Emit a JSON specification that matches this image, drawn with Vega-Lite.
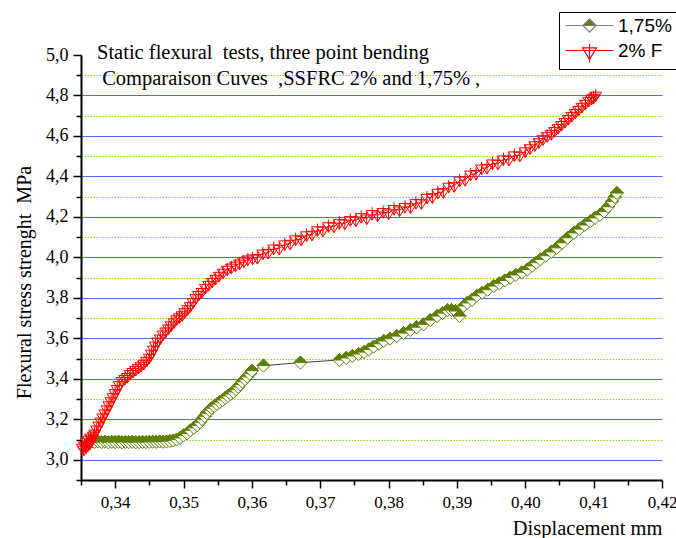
{
"$schema": "https://vega.github.io/schema/vega-lite/v6.json",
"width": 581, "height": 425,
"autosize": {"type": "none"},
"padding": {"left": 81, "top": 55, "right": 14, "bottom": 58},
"background": "white",
"config": {"view": {"stroke": null}, "font": "Liberation Serif"},
"title": {"text": ["Static flexural\u00a0 tests, three point bending", "\u200b\u00a0Comparaison Cuves\u00a0 ,SSFRC 2% and 1,75% ,"], "anchor": "start", "frame": "group", "orient": "top", "font": "Liberation Serif", "fontSize": 20.5, "fontWeight": "normal", "color": "black", "lineHeight": 26, "baseline": "top", "dx": 16, "dy": 78, "offset": 0},
"data": {"values": [
{"series":"1,75%","disp":0.3362,"stress":3.085},{"series":"1,75%","disp":0.3366,"stress":3.09},{"series":"1,75%","disp":0.3370,"stress":3.088},{"series":"1,75%","disp":0.3375,"stress":3.09},{"series":"1,75%","disp":0.3380,"stress":3.087},{"series":"1,75%","disp":0.3385,"stress":3.089},{"series":"1,75%","disp":0.3390,"stress":3.086},{"series":"1,75%","disp":0.3395,"stress":3.088},{"series":"1,75%","disp":0.3400,"stress":3.087},{"series":"1,75%","disp":0.3405,"stress":3.089},{"series":"1,75%","disp":0.3410,"stress":3.086},{"series":"1,75%","disp":0.3415,"stress":3.088},{"series":"1,75%","disp":0.3420,"stress":3.087},{"series":"1,75%","disp":0.3425,"stress":3.088},{"series":"1,75%","disp":0.3430,"stress":3.086},{"series":"1,75%","disp":0.3435,"stress":3.087},{"series":"1,75%","disp":0.3440,"stress":3.088},{"series":"1,75%","disp":0.3445,"stress":3.087},{"series":"1,75%","disp":0.3450,"stress":3.088},{"series":"1,75%","disp":0.3455,"stress":3.089},{"series":"1,75%","disp":0.3460,"stress":3.088},{"series":"1,75%","disp":0.3465,"stress":3.09},{"series":"1,75%","disp":0.3470,"stress":3.089},{"series":"1,75%","disp":0.3475,"stress":3.09},{"series":"1,75%","disp":0.3480,"stress":3.092},{"series":"1,75%","disp":0.3485,"stress":3.095},{"series":"1,75%","disp":0.3490,"stress":3.10},{"series":"1,75%","disp":0.3495,"stress":3.108},{"series":"1,75%","disp":0.3500,"stress":3.12},{"series":"1,75%","disp":0.3505,"stress":3.13},{"series":"1,75%","disp":0.3510,"stress":3.145},{"series":"1,75%","disp":0.3515,"stress":3.158},{"series":"1,75%","disp":0.3520,"stress":3.17},{"series":"1,75%","disp":0.3524,"stress":3.185},{"series":"1,75%","disp":0.3527,"stress":3.20},{"series":"1,75%","disp":0.3531,"stress":3.215},{"series":"1,75%","disp":0.3534,"stress":3.23},{"series":"1,75%","disp":0.3538,"stress":3.245},{"series":"1,75%","disp":0.3541,"stress":3.255},{"series":"1,75%","disp":0.3545,"stress":3.265},{"series":"1,75%","disp":0.3549,"stress":3.275},{"series":"1,75%","disp":0.3553,"stress":3.285},{"series":"1,75%","disp":0.3557,"stress":3.295},{"series":"1,75%","disp":0.3561,"stress":3.305},{"series":"1,75%","disp":0.3565,"stress":3.315},{"series":"1,75%","disp":0.3569,"stress":3.325},{"series":"1,75%","disp":0.3573,"stress":3.335},{"series":"1,75%","disp":0.3577,"stress":3.348},{"series":"1,75%","disp":0.3580,"stress":3.36},{"series":"1,75%","disp":0.3583,"stress":3.372},{"series":"1,75%","disp":0.3586,"stress":3.385},{"series":"1,75%","disp":0.3590,"stress":3.398},{"series":"1,75%","disp":0.3593,"stress":3.41},{"series":"1,75%","disp":0.3597,"stress":3.425},{"series":"1,75%","disp":0.3600,"stress":3.44},{"series":"1,75%","disp":0.3617,"stress":3.465},{"series":"1,75%","disp":0.3671,"stress":3.48},{"series":"1,75%","disp":0.3728,"stress":3.493},{"series":"1,75%","disp":0.3738,"stress":3.503},{"series":"1,75%","disp":0.3747,"stress":3.513},{"series":"1,75%","disp":0.3756,"stress":3.522},{"series":"1,75%","disp":0.3764,"stress":3.532},{"series":"1,75%","disp":0.3771,"stress":3.545},{"series":"1,75%","disp":0.3778,"stress":3.559},{"series":"1,75%","disp":0.3786,"stress":3.573},{"series":"1,75%","disp":0.3793,"stress":3.587},{"series":"1,75%","disp":0.3802,"stress":3.598},{"series":"1,75%","disp":0.3812,"stress":3.611},{"series":"1,75%","disp":0.3822,"stress":3.626},{"series":"1,75%","disp":0.3832,"stress":3.641},{"series":"1,75%","disp":0.3841,"stress":3.655},{"series":"1,75%","disp":0.3851,"stress":3.669},{"series":"1,75%","disp":0.3861,"stress":3.69},{"series":"1,75%","disp":0.3871,"stress":3.71},{"series":"1,75%","disp":0.3879,"stress":3.725},{"series":"1,75%","disp":0.3886,"stress":3.739},{"series":"1,75%","disp":0.3892,"stress":3.74},{"series":"1,75%","disp":0.3898,"stress":3.735},{"series":"1,75%","disp":0.3904,"stress":3.71},{"series":"1,75%","disp":0.3910,"stress":3.76},{"series":"1,75%","disp":0.3915,"stress":3.775},{"series":"1,75%","disp":0.3922,"stress":3.79},{"series":"1,75%","disp":0.3929,"stress":3.81},{"series":"1,75%","disp":0.3937,"stress":3.825},{"series":"1,75%","disp":0.3945,"stress":3.84},{"series":"1,75%","disp":0.3954,"stress":3.858},{"series":"1,75%","disp":0.3962,"stress":3.872},{"series":"1,75%","disp":0.3970,"stress":3.886},{"series":"1,75%","disp":0.3978,"stress":3.90},{"series":"1,75%","disp":0.3986,"stress":3.913},{"series":"1,75%","disp":0.3995,"stress":3.926},{"series":"1,75%","disp":0.4003,"stress":3.94},{"series":"1,75%","disp":0.4010,"stress":3.958},{"series":"1,75%","disp":0.4016,"stress":3.974},{"series":"1,75%","disp":0.4022,"stress":3.99},{"series":"1,75%","disp":0.4030,"stress":4.008},{"series":"1,75%","disp":0.4038,"stress":4.027},{"series":"1,75%","disp":0.4046,"stress":4.047},{"series":"1,75%","disp":0.4054,"stress":4.072},{"series":"1,75%","disp":0.4062,"stress":4.097},{"series":"1,75%","disp":0.4071,"stress":4.121},{"series":"1,75%","disp":0.4079,"stress":4.14},{"series":"1,75%","disp":0.4087,"stress":4.16},{"series":"1,75%","disp":0.4095,"stress":4.178},{"series":"1,75%","disp":0.4102,"stress":4.195},{"series":"1,75%","disp":0.4109,"stress":4.21},{"series":"1,75%","disp":0.4115,"stress":4.227},{"series":"1,75%","disp":0.4121,"stress":4.25},{"series":"1,75%","disp":0.4127,"stress":4.277},{"series":"1,75%","disp":0.4131,"stress":4.298},{"series":"1,75%","disp":0.4134,"stress":4.318},
{"series":"2% F","disp":0.3352,"stress":3.06},{"series":"2% F","disp":0.3354,"stress":3.05},{"series":"2% F","disp":0.3355,"stress":3.07},{"series":"2% F","disp":0.3357,"stress":3.06},{"series":"2% F","disp":0.3358,"stress":3.09},{"series":"2% F","disp":0.3360,"stress":3.07},{"series":"2% F","disp":0.3361,"stress":3.10},{"series":"2% F","disp":0.3363,"stress":3.08},{"series":"2% F","disp":0.3364,"stress":3.11},{"series":"2% F","disp":0.3366,"stress":3.10},{"series":"2% F","disp":0.3368,"stress":3.12},{"series":"2% F","disp":0.3370,"stress":3.13},{"series":"2% F","disp":0.3373,"stress":3.15},{"series":"2% F","disp":0.3376,"stress":3.17},{"series":"2% F","disp":0.3379,"stress":3.19},{"series":"2% F","disp":0.3382,"stress":3.21},{"series":"2% F","disp":0.3385,"stress":3.23},{"series":"2% F","disp":0.3388,"stress":3.25},{"series":"2% F","disp":0.3391,"stress":3.27},{"series":"2% F","disp":0.3394,"stress":3.29},{"series":"2% F","disp":0.3397,"stress":3.31},{"series":"2% F","disp":0.3400,"stress":3.33},{"series":"2% F","disp":0.3403,"stress":3.35},{"series":"2% F","disp":0.3406,"stress":3.37},{"series":"2% F","disp":0.3410,"stress":3.39},{"series":"2% F","disp":0.3414,"stress":3.40},{"series":"2% F","disp":0.3418,"stress":3.41},{"series":"2% F","disp":0.3422,"stress":3.425},{"series":"2% F","disp":0.3426,"stress":3.435},{"series":"2% F","disp":0.3430,"stress":3.445},{"series":"2% F","disp":0.3434,"stress":3.455},{"series":"2% F","disp":0.3438,"stress":3.465},{"series":"2% F","disp":0.3442,"stress":3.475},{"series":"2% F","disp":0.3446,"stress":3.49},{"series":"2% F","disp":0.3450,"stress":3.505},{"series":"2% F","disp":0.3453,"stress":3.525},{"series":"2% F","disp":0.3456,"stress":3.545},{"series":"2% F","disp":0.3459,"stress":3.565},{"series":"2% F","disp":0.3462,"stress":3.585},{"series":"2% F","disp":0.3466,"stress":3.60},{"series":"2% F","disp":0.3470,"stress":3.62},{"series":"2% F","disp":0.3474,"stress":3.635},{"series":"2% F","disp":0.3478,"stress":3.65},{"series":"2% F","disp":0.3482,"stress":3.665},{"series":"2% F","disp":0.3486,"stress":3.68},{"series":"2% F","disp":0.3490,"stress":3.695},{"series":"2% F","disp":0.3494,"stress":3.705},{"series":"2% F","disp":0.3498,"stress":3.715},{"series":"2% F","disp":0.3502,"stress":3.73},{"series":"2% F","disp":0.3506,"stress":3.745},{"series":"2% F","disp":0.3510,"stress":3.76},{"series":"2% F","disp":0.3514,"stress":3.78},{"series":"2% F","disp":0.3518,"stress":3.80},{"series":"2% F","disp":0.3522,"stress":3.815},{"series":"2% F","disp":0.3527,"stress":3.83},{"series":"2% F","disp":0.3532,"stress":3.85},{"series":"2% F","disp":0.3537,"stress":3.865},{"series":"2% F","disp":0.3542,"stress":3.88},{"series":"2% F","disp":0.3547,"stress":3.895},{"series":"2% F","disp":0.3552,"stress":3.91},{"series":"2% F","disp":0.3558,"stress":3.925},{"series":"2% F","disp":0.3564,"stress":3.94},{"series":"2% F","disp":0.3570,"stress":3.95},{"series":"2% F","disp":0.3576,"stress":3.96},{"series":"2% F","disp":0.3582,"stress":3.97},{"series":"2% F","disp":0.3588,"stress":3.98},{"series":"2% F","disp":0.3594,"stress":3.99},{"series":"2% F","disp":0.3601,"stress":3.995},{"series":"2% F","disp":0.3608,"stress":3.998},{"series":"2% F","disp":0.3616,"stress":4.02},{"series":"2% F","disp":0.3624,"stress":4.023},{"series":"2% F","disp":0.3632,"stress":4.045},{"series":"2% F","disp":0.3640,"stress":4.043},{"series":"2% F","disp":0.3648,"stress":4.065},{"series":"2% F","disp":0.3656,"stress":4.068},{"series":"2% F","disp":0.3664,"stress":4.09},{"series":"2% F","disp":0.3672,"stress":4.088},{"series":"2% F","disp":0.3680,"stress":4.11},{"series":"2% F","disp":0.3688,"stress":4.113},{"series":"2% F","disp":0.3696,"stress":4.135},{"series":"2% F","disp":0.3704,"stress":4.133},{"series":"2% F","disp":0.3712,"stress":4.155},{"series":"2% F","disp":0.3720,"stress":4.153},{"series":"2% F","disp":0.3728,"stress":4.17},{"series":"2% F","disp":0.3736,"stress":4.168},{"series":"2% F","disp":0.3744,"stress":4.185},{"series":"2% F","disp":0.3752,"stress":4.183},{"series":"2% F","disp":0.3760,"stress":4.20},{"series":"2% F","disp":0.3768,"stress":4.193},{"series":"2% F","disp":0.3776,"stress":4.215},{"series":"2% F","disp":0.3784,"stress":4.208},{"series":"2% F","disp":0.3792,"stress":4.225},{"series":"2% F","disp":0.3800,"stress":4.218},{"series":"2% F","disp":0.3808,"stress":4.24},{"series":"2% F","disp":0.3816,"stress":4.233},{"series":"2% F","disp":0.3824,"stress":4.25},{"series":"2% F","disp":0.3832,"stress":4.248},{"series":"2% F","disp":0.3840,"stress":4.27},{"series":"2% F","disp":0.3848,"stress":4.268},{"series":"2% F","disp":0.3856,"stress":4.295},{"series":"2% F","disp":0.3864,"stress":4.298},{"series":"2% F","disp":0.3872,"stress":4.32},{"series":"2% F","disp":0.3880,"stress":4.323},{"series":"2% F","disp":0.3888,"stress":4.35},{"series":"2% F","disp":0.3896,"stress":4.353},{"series":"2% F","disp":0.3904,"stress":4.38},{"series":"2% F","disp":0.3912,"stress":4.383},{"series":"2% F","disp":0.3920,"stress":4.41},{"series":"2% F","disp":0.3928,"stress":4.413},{"series":"2% F","disp":0.3936,"stress":4.44},{"series":"2% F","disp":0.3944,"stress":4.443},{"series":"2% F","disp":0.3952,"stress":4.465},{"series":"2% F","disp":0.3960,"stress":4.463},{"series":"2% F","disp":0.3968,"stress":4.485},{"series":"2% F","disp":0.3976,"stress":4.483},{"series":"2% F","disp":0.3984,"stress":4.505},{"series":"2% F","disp":0.3992,"stress":4.503},{"series":"2% F","disp":0.4000,"stress":4.525},{"series":"2% F","disp":0.4007,"stress":4.54},{"series":"2% F","disp":0.4014,"stress":4.555},{"series":"2% F","disp":0.4020,"stress":4.57},{"series":"2% F","disp":0.4026,"stress":4.585},{"series":"2% F","disp":0.4032,"stress":4.60},{"series":"2% F","disp":0.4038,"stress":4.61},{"series":"2% F","disp":0.4043,"stress":4.625},{"series":"2% F","disp":0.4048,"stress":4.64},{"series":"2% F","disp":0.4053,"stress":4.655},{"series":"2% F","disp":0.4058,"stress":4.67},{"series":"2% F","disp":0.4063,"stress":4.685},{"series":"2% F","disp":0.4068,"stress":4.70},{"series":"2% F","disp":0.4073,"stress":4.715},{"series":"2% F","disp":0.4078,"stress":4.73},{"series":"2% F","disp":0.4083,"stress":4.745},{"series":"2% F","disp":0.4088,"stress":4.76},{"series":"2% F","disp":0.4093,"stress":4.775},{"series":"2% F","disp":0.4097,"stress":4.785},{"series":"2% F","disp":0.4100,"stress":4.79},{"series":"2% F","disp":0.4103,"stress":4.80}
]},
"encoding": {
  "x": {"field": "disp", "type": "quantitative", "scale": {"domain": [0.335, 0.42], "nice": false, "zero": false},
    "axis": {"values": [0.335,0.34,0.345,0.35,0.355,0.36,0.365,0.37,0.375,0.38,0.385,0.39,0.395,0.40,0.405,0.41,0.415,0.42],
      "labelExpr": "round(datum.value*200) % 2 == 0 ? replace(format(datum.value, '.2f'), '.', ',') : ''",
      "grid": false, "domainColor": "black", "domainWidth": 2, "tickColor": "black", "tickWidth": 1.5,
      "tickSize": {"condition": {"test": "round(datum.value*200) % 2 == 0", "value": 8}, "value": 5},
      "labelFont": "Liberation Serif", "labelFontSize": 17, "labelColor": "black", "labelPadding": 6, "labelFlush": false, "labelOverlap": false,
      "title": "Displacement mm", "titleFont": "Liberation Serif", "titleFontSize": 20.5, "titleFontWeight": "normal", "titleColor": "black", "titleAnchor": "end", "titleAlign": "right", "titlePadding": 8}},
  "y": {"field": "stress", "type": "quantitative", "scale": {"domain": [2.9, 5.0], "nice": false, "zero": false},
    "axis": {"values": [2.9,3.0,3.1,3.2,3.3,3.4,3.5,3.6,3.7,3.8,3.9,4.0,4.1,4.2,4.3,4.4,4.5,4.6,4.7,4.8,4.9,5.0],
      "labelExpr": "round(datum.value*10) % 2 == 0 ? replace(format(datum.value, '.1f'), '.', ',') : ''",
      "grid": true,
      "gridColor": {"condition": {"test": "round(datum.value*10) % 2 == 0", "value": "#4d6cf0"}, "value": "#7fe000"},
      "gridDash": {"condition": {"test": "round(datum.value*10) % 2 == 0", "value": []}, "value": [1.5, 1.5]},
      "gridOpacity": {"condition": {"test": "datum.value < 2.95 || datum.value > 4.95", "value": 0}, "value": 1},
      "gridWidth": 1,
      "domainColor": "black", "domainWidth": 2, "tickColor": "black", "tickWidth": 1.5,
      "tickSize": {"condition": {"test": "round(datum.value*10) % 2 == 0", "value": 8}, "value": 5},
      "labelFont": "Liberation Serif", "labelFontSize": 18, "labelColor": "black", "labelPadding": 5, "labelFlush": false, "labelOverlap": false,
      "title": "Flexural stress strenght\u00a0 MPa", "titleFont": "Liberation Serif", "titleFontSize": 20, "titleFontWeight": "normal", "titleColor": "black", "titlePadding": 11, "titleY": 227}}
},
"layer": [
  {"transform": [{"filter": "datum.disp > 1"}],
   "mark": {"type": "point", "filled": true, "strokeWidth": 1.2, "opacity": 1},
   "encoding": {
     "shape": {"field": "series", "type": "nominal", "scale": {"domain": ["1,75%", "2% F"], "range": ["M-4,0L-1.1,0M1.1,0L4,0M-1.1,0L0,-1.1L1.1,0ZM-1.1,0L0,1.1L1.1,0L0,1.1Z", "M-4,0L4,0M-1.15,-0.45L1.15,-0.45L0,1.5ZM-1.15,-0.45L0,1.5L1.15,-0.45ZM0,-1.1L0,2"]},
       "legend": {"orient": "none", "legendX": 478, "legendY": -43, "title": null, "padding": 4, "strokeColor": "black", "fillColor": "white", "labelFont": "Liberation Sans", "labelFontSize": 19, "labelColor": "black", "symbolSize": 144, "symbolOffset": 17, "labelOffset": 19, "rowPadding": 5, "symbolStrokeWidth": 1.2}},
     "color": {"field": "series", "type": "nominal", "scale": {"domain": ["1,75%", "2% F"], "range": ["#5c7f00", "#ff0000"]},
       "legend": {"orient": "none", "legendX": 478, "legendY": -43, "title": null, "padding": 4, "strokeColor": "black", "fillColor": "white", "labelFont": "Liberation Sans", "labelFontSize": 19, "labelColor": "black", "symbolSize": 144, "symbolOffset": 17, "labelOffset": 19, "rowPadding": 5, "symbolStrokeWidth": 1.2}},
     "stroke": {"field": "series", "type": "nominal", "scale": {"domain": ["1,75%", "2% F"], "range": ["#808080", "#ff0000"]},
       "legend": {"orient": "none", "legendX": 478, "legendY": -43, "title": null, "padding": 4, "strokeColor": "black", "fillColor": "white", "labelFont": "Liberation Sans", "labelFontSize": 19, "labelColor": "black", "symbolSize": 144, "symbolOffset": 17, "labelOffset": 19, "rowPadding": 5, "symbolStrokeWidth": 1.2}}
   }},
  {"transform": [{"filter": "datum.series == '1,75%'"}],
   "mark": {"type": "line", "color": "#404040", "strokeWidth": 1},
   "encoding": {"order": {"field": "disp", "type": "quantitative"}}},
  {"transform": [{"filter": "datum.series == '1,75%'"}, {"fold": ["disp", "stress"], "as": ["part", "val"]}],
   "mark": {"type": "point", "filled": true, "stroke": "#5c7f00", "strokeWidth": 1, "size": 170, "opacity": 1},
   "encoding": {
     "shape": {"field": "part", "type": "nominal", "scale": {"domain": ["disp", "stress"], "range": ["M-1,0L0,-1L1,0L0,1Z", "M-1,0L0,-1L1,0Z"]}, "legend": null},
     "fill": {"field": "part", "type": "nominal", "scale": {"domain": ["disp", "stress"], "range": ["#ffffff", "#5c7f00"]}, "legend": null},
     "order": [{"field": "disp", "type": "quantitative"}, {"field": "part", "type": "ordinal"}]
   }},
  {"transform": [{"filter": "datum.series == '2% F'"}],
   "mark": {"type": "line", "color": "#ff0000", "strokeWidth": 1},
   "encoding": {"order": {"field": "disp", "type": "quantitative"}}},
  {"transform": [{"filter": "datum.series == '2% F'"}],
   "mark": {"type": "point", "filled": false, "color": "#ff0000", "strokeWidth": 1, "size": 144, "opacity": 1, "shape": "M-1,-0.55L1,-0.55L0,1.05ZM0,-1.1L0,1.05"}}
],
"resolve": {"scale": {"shape": "independent", "fill": "independent", "stroke": "independent", "color": "independent"}}
}
